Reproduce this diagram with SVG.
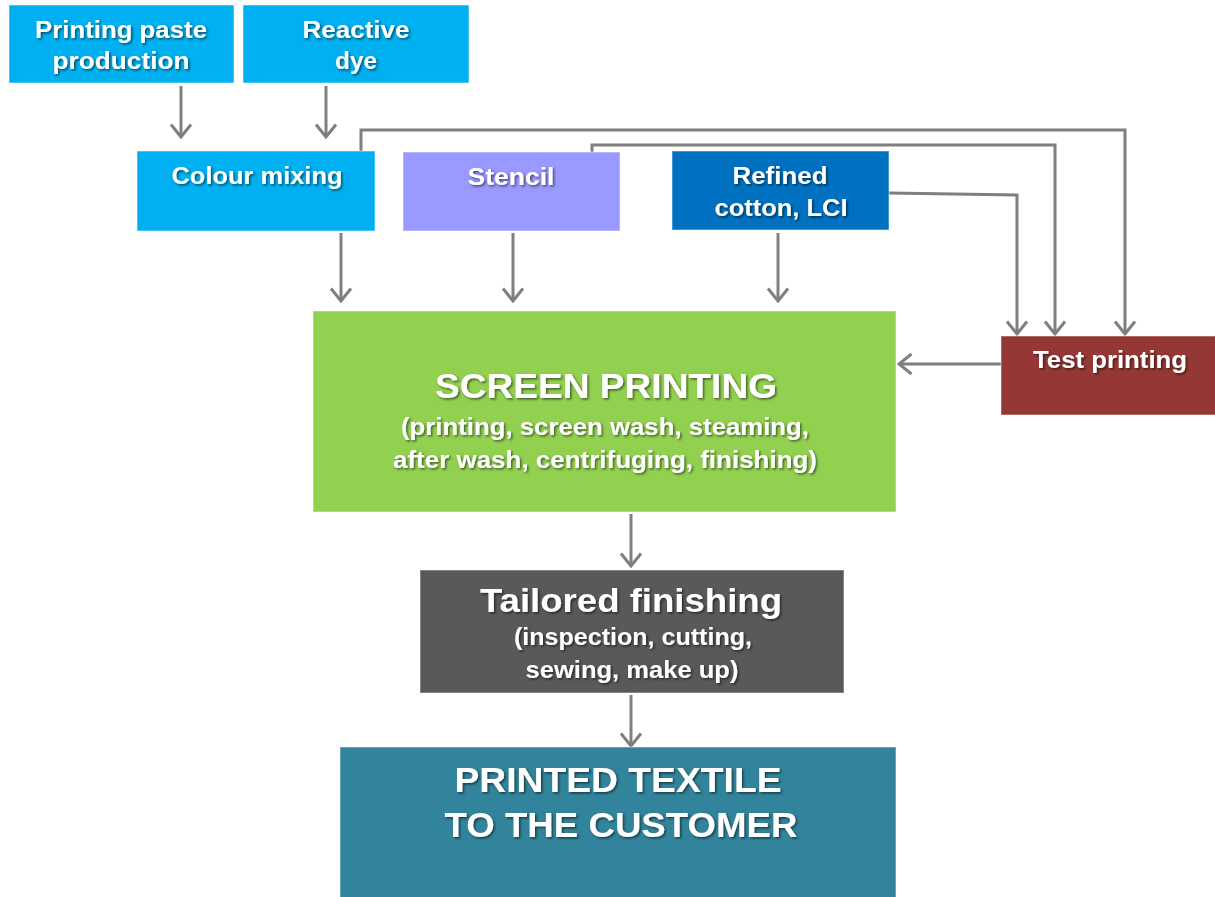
<svg xmlns="http://www.w3.org/2000/svg" width="1215" height="897" viewBox="0 0 1215 897">
<defs>
<filter id="ts" x="-10%" y="-30%" width="120%" height="160%">
<feDropShadow dx="1.5" dy="1.5" stdDeviation="1" flood-color="#000" flood-opacity="0.55"/>
</filter>
<marker id="ah" viewBox="0 0 16 24" refX="14" refY="12" markerWidth="16" markerHeight="24" markerUnits="userSpaceOnUse" orient="auto">
<path d="M1.5,2 L14,12 L1.5,22" fill="none" stroke="#7f7f7f" stroke-width="3"/>
</marker>
<style>
.t{font-family:"Liberation Sans",Arial,sans-serif;font-weight:bold;fill:#fff;text-anchor:middle;filter:url(#ts)}
.s{font-size:24px}
.m{font-size:33px}
.l{font-size:35px}
.c{fill:none;stroke:#7f7f7f;stroke-width:3;marker-end:url(#ah)}
.b{stroke-width:1.5;stroke-opacity:0.35;stroke:#fff}
</style>
</defs>
<rect width="1215" height="897" fill="#fff"/>
<g id="connectors">
<path class="c" d="M181,86 V137"/>
<path class="c" d="M326,86 V137"/>
<path class="c" d="M341,233 V301"/>
<path class="c" d="M513,233 V301"/>
<path class="c" d="M778,233 V301"/>
<path class="c" d="M631,514 V566"/>
<path class="c" d="M631,695 V746"/>
<path class="c" d="M1001,364 H899"/>
<path class="c" d="M361,151 V130 H1125 V334"/>
<path class="c" d="M592,152 V145 H1055 V334"/>
<path class="c" d="M889,193 L1017,195 V334"/>
</g>
<g id="printing-paste">
<rect class="b" x="9" y="5" width="225" height="78" fill="#00b0f0"/>
<text class="t s" x="121" y="38" textLength="172" lengthAdjust="spacingAndGlyphs">Printing paste</text>
<text class="t s" x="121" y="69" textLength="137" lengthAdjust="spacingAndGlyphs">production</text>
</g>
<g id="reactive-dye">
<rect class="b" x="243" y="5" width="226" height="78" fill="#00b0f0"/>
<text class="t s" x="356" y="38" textLength="107" lengthAdjust="spacingAndGlyphs">Reactive</text>
<text class="t s" x="356" y="69" textLength="42" lengthAdjust="spacingAndGlyphs">dye</text>
</g>
<g id="colour-mixing">
<rect class="b" x="137" y="151" width="238" height="80" fill="#00b0f0"/>
<text class="t s" x="257" y="184" textLength="171" lengthAdjust="spacingAndGlyphs">Colour mixing</text>
</g>
<g id="stencil">
<rect class="b" x="403" y="152" width="217" height="79" fill="#9999ff"/>
<text class="t s" x="511" y="185" textLength="87" lengthAdjust="spacingAndGlyphs">Stencil</text>
</g>
<g id="refined-cotton">
<rect class="b" x="672" y="151" width="217" height="79" fill="#0070c0"/>
<text class="t s" x="780" y="184" textLength="95" lengthAdjust="spacingAndGlyphs">Refined</text>
<text class="t s" x="781" y="216" textLength="133" lengthAdjust="spacingAndGlyphs">cotton, LCI</text>
</g>
<g id="test-printing">
<rect class="b" x="1001" y="336" width="216" height="79" fill="#953735"/>
<text class="t s" x="1110" y="368" textLength="154" lengthAdjust="spacingAndGlyphs">Test printing</text>
</g>
<g id="screen-printing">
<rect class="b" x="313" y="311" width="583" height="201" fill="#92d050"/>
<text class="t l" x="606" y="398" textLength="342" lengthAdjust="spacingAndGlyphs">SCREEN PRINTING</text>
<text class="t s" x="605" y="435" textLength="408" lengthAdjust="spacingAndGlyphs">(printing, screen wash, steaming,</text>
<text class="t s" x="605" y="468" textLength="424" lengthAdjust="spacingAndGlyphs">after wash, centrifuging, finishing)</text>
</g>
<g id="tailored-finishing">
<rect class="b" x="420" y="570" width="424" height="123" fill="#595959"/>
<text class="t m" x="631" y="612" textLength="302" lengthAdjust="spacingAndGlyphs">Tailored finishing</text>
<text class="t s" x="633" y="645" textLength="238" lengthAdjust="spacingAndGlyphs">(inspection, cutting,</text>
<text class="t s" x="632" y="678" textLength="213" lengthAdjust="spacingAndGlyphs">sewing, make up)</text>
</g>
<g id="printed-textile">
<rect class="b" x="340" y="747" width="556" height="152" fill="#31849b"/>
<text class="t l" x="618" y="792" textLength="327" lengthAdjust="spacingAndGlyphs">PRINTED TEXTILE</text>
<text class="t l" x="621" y="837" textLength="353" lengthAdjust="spacingAndGlyphs">TO THE CUSTOMER</text>
</g>
</svg>
